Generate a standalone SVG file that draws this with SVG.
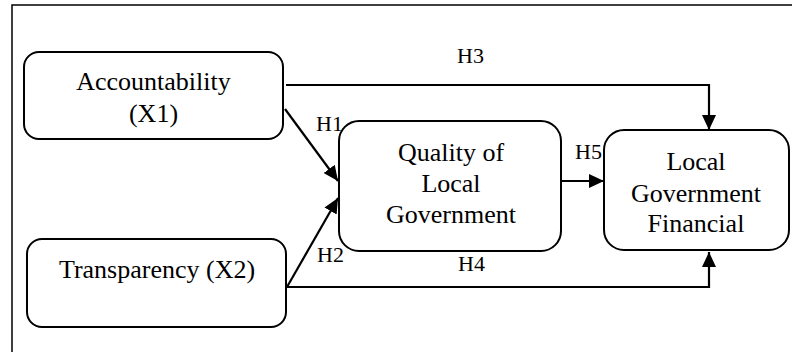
<svg xmlns="http://www.w3.org/2000/svg" width="792" height="352" viewBox="0 0 792 352">
  <style>
    .box { fill: #ffffff; stroke: #000000; stroke-width: 2; }
    .frame { fill: none; stroke: #000000; stroke-width: 1.5; }
    .conn { fill: none; stroke: #000000; stroke-width: 2.2; }
    .node-text { font-size: 26px; text-anchor: middle; }
    .lbl { font-size: 22px; }
  </style>
  <defs>
    <marker id="arrow" markerUnits="userSpaceOnUse" markerWidth="16" markerHeight="14" refX="15" refY="7" orient="auto">
      <path d="M0,0 L15,7 L0,14 Z" fill="#000000"/>
    </marker>
  </defs>

  <rect width="792" height="352" fill="#ffffff"/>
  <!-- outer frame -->
  <path class="frame" d="M12,352 L12,5 L792,5"/>

  <g id="connectors">
    <!-- H3 -->
    <path class="conn" d="M286,85 L709,85 L709,130" marker-end="url(#arrow)"/>
    <!-- H4 -->
    <path class="conn" d="M287,287 L709,287 L709,252" marker-end="url(#arrow)"/>
    <!-- H1 -->
    <path class="conn" d="M285,109 L338,181" marker-end="url(#arrow)"/>
    <!-- H2 -->
    <path class="conn" d="M287,287 L338,198" marker-end="url(#arrow)"/>
    <!-- H5 -->
    <path class="conn" d="M561,181 L604,181" marker-end="url(#arrow)"/>
  </g>

  <g font-family="Liberation Serif, Times New Roman, serif" fill="#000000">
    <g id="accountability">
      <rect class="box" x="24" y="52" width="259" height="87" rx="15"/>
      <text class="node-text" x="153.5" y="90">Accountability</text>
      <text class="node-text" x="153.5" y="122">(X1)</text>
    </g>

    <g id="transparency">
      <rect class="box" x="27" y="239" width="259" height="88" rx="15"/>
      <text class="node-text" x="157" y="278">Transparency (X2)</text>
    </g>

    <g id="quality">
      <rect class="box" x="339" y="121" width="222" height="130" rx="20"/>
      <text class="node-text" x="451" y="161">Quality of</text>
      <text class="node-text" x="451" y="192">Local</text>
      <text class="node-text" x="451" y="223">Government</text>
    </g>

    <g id="financial">
      <rect class="box" x="604" y="130" width="185" height="120" rx="20"/>
      <text class="node-text" x="696" y="170">Local</text>
      <text class="node-text" x="696" y="202">Government</text>
      <text class="node-text" x="696" y="232">Financial</text>
    </g>

    <g id="labels">
      <text class="lbl" x="457" y="63">H3</text>
      <text class="lbl" x="316" y="131">H1</text>
      <text class="lbl" x="575" y="159">H5</text>
      <text class="lbl" x="317" y="262">H2</text>
      <text class="lbl" x="458" y="271">H4</text>
    </g>
  </g>
</svg>
